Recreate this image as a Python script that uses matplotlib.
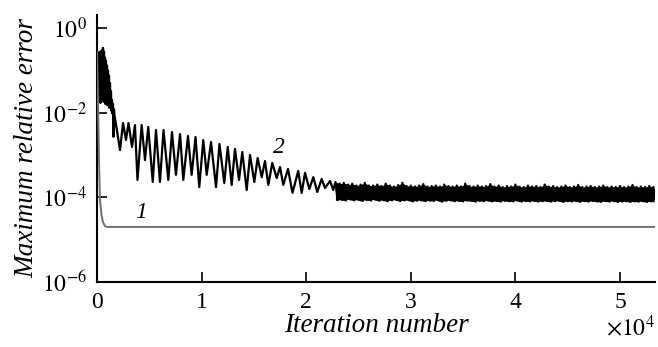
import numpy as np
import matplotlib
matplotlib.use("Agg")
import matplotlib.pyplot as plt

plt.rcParams['font.family'] = ['Liberation Serif', 'DejaVu Serif']
plt.rcParams['mathtext.fontset'] = 'stix'

# curve 1: fast convergence (gray)
it1 = [0, 96, 190, 290, 430, 574, 765, 956, 53346]
err1 = [0.27, 0.02, 7.6e-4, 8.7e-5, 3.8e-5, 2.6e-5, 2.1e-5, 2.0e-5, 2.0e-5]

# curve 2: start region (dense), then peaks/dips of the oscillation
it2 = [0, 48, 96, 143, 191, 239, 287, 335, 382, 430, 478, 526, 574, 621,
       669, 717, 765, 813, 860, 908, 956, 1004, 1052, 1099, 1147, 1195,
       1243, 1291, 1338, 1386, 1434, 1482, 1530, 1577, 1625, 1673,
       1720, 2200, 2490, 2770, 3010, 3350, 3630, 3870, 4270, 4590, 4900,
       5330, 5640, 6020, 6360, 6820, 7170, 7550, 7940, 8250, 8700, 9050,
       9420, 9780, 10160, 10490, 10900, 11380, 11710, 12170, 12500, 12880,
       13190, 13580, 13890, 14310, 14630, 15040, 15360, 15750, 16060, 16380,
       16760, 17180, 17500, 17810, 18260, 18690, 19240, 19570, 19890, 20300,
       20680, 21060, 21480, 21800, 22280, 22590]
err2 = [0.25, 0.022, 0.24, 0.018, 0.27, 0.025, 0.26, 0.017, 0.28, 0.030,
        0.30, 0.020, 0.34, 0.018, 0.28, 0.022, 0.20, 0.016, 0.17, 0.020,
        0.13, 0.015, 0.10, 0.017, 0.075, 0.013, 0.050, 0.014, 0.032, 0.011,
        0.020, 0.0095, 0.016, 0.0027, 0.012, 0.0085,
        0.0075, 0.00131, 0.0057, 0.00226, 0.0057, 0.00155, 0.0051, 0.000257,
        0.0051, 0.00076, 0.0046, 0.00023, 0.0039, 0.00023, 0.0039, 0.000257,
        0.0035, 0.00034, 0.00313, 0.000257, 0.00281, 0.00034, 0.00266,
        0.000175, 0.00226, 0.00034, 0.00203, 0.000175, 0.00182, 0.000218,
        0.00155, 0.000196, 0.00139, 0.000257, 0.00118, 0.000149, 0.00100,
        0.00023, 0.00085, 0.00030, 0.00072, 0.000196, 0.00065, 0.000286,
        0.00052, 0.000196, 0.00047, 0.000127, 0.00042, 0.000127, 0.00038,
        0.000157, 0.00030, 0.000134, 0.000271, 0.000166, 0.000243, 0.000149]

# curve 2: noisy plateau, upper (x1e-4) and lower (x1e-5) edges every 400 iterations
band_start = 22800
band_top = [2.3, 2.1, 2.2, 2.0, 2.1, 1.9, 2.0, 2.2, 1.9, 1.9,
            2.0, 1.85, 2.1, 1.9, 1.8, 1.95, 2.2, 1.85, 1.9, 1.8,
            1.9, 2.05, 1.8, 1.85, 1.9, 1.8, 2.0, 1.85, 1.8, 1.9,
            1.8, 2.1, 1.85, 1.8, 1.9, 1.8, 1.85, 2.05, 1.8, 1.9,
            1.75, 1.85, 1.8, 2.0, 1.8, 1.75, 1.9, 1.8, 1.85, 1.75,
            2.0, 1.8, 1.85, 1.75, 1.8, 1.9, 1.75, 1.8, 1.95, 1.75,
            1.8, 1.85, 1.75, 1.8, 1.9, 1.75, 1.8, 1.75, 1.85, 1.75,
            1.8, 1.95, 1.75, 1.8, 1.75, 1.85, 1.75]
band_bot = [8.6, 8.8, 8.4, 9.0, 8.5, 8.8, 8.2, 8.7, 8.4, 8.9,
            8.3, 8.6, 8.1, 8.5, 8.8, 8.2, 8.4, 8.6, 8.0, 8.3,
            8.5, 8.1, 8.4, 8.2, 8.6, 7.9, 8.3, 8.5, 8.1, 8.3,
            8.0, 8.4, 8.2, 7.9, 8.3, 8.1, 8.4, 8.0, 8.2, 7.9,
            8.3, 8.1, 8.0, 8.4, 7.9, 8.2, 8.0, 8.3, 7.9, 8.1,
            8.2, 7.9, 8.1, 8.3, 7.8, 8.1, 8.0, 8.2, 7.8, 8.1,
            7.9, 8.2, 8.0, 7.8, 8.1, 7.9, 8.2, 7.8, 8.0, 8.1,
            7.8, 8.0, 7.9, 8.1, 7.8, 8.0, 7.9]

xticks = [0, 1e4, 2e4, 3e4, 4e4, 5e4]
xticklabels = ['0', '1', '2', '3', '4', '5']
yticks = [1, 1e-2, 1e-4, 1e-6]
yticklabels = [r'$10^{0}$', r'$10^{-2}$', r'$10^{-4}$', r'$10^{-6}$']

# plateau: edges at the listed positions, zigzag between them
band_it = [band_start + 400 * k for k in range(len(band_top))]
band_hi = [v * 1e-4 for v in band_top]
band_lo = [v * 1e-5 for v in band_bot]
it_band, err_band = [], []
for k in range(len(band_top)):
    it_band += [band_it[k], band_it[k] + 200]
    err_band += [band_hi[k], band_lo[k]]

fig = plt.figure(figsize=(6.58, 3.47), dpi=100)
ax = fig.add_axes([0.1474, 0.1873, 0.848, 0.7695])

ax.plot(it2 + it_band, err2 + err_band, color='black', lw=1.6)
ax.fill_between(band_it, band_lo, band_hi, color='black', lw=0)
ax.plot(it1, err1, color='#707070', lw=1.4, zorder=3)

ax.set_yscale('log')
ax.set_xlim(0, 53346)
ax.set_ylim(1e-6, 2.03)
ax.set_xticks(xticks)
ax.set_xticklabels(xticklabels)
ax.set_yticks(yticks)
ax.set_yticklabels(yticklabels)
ax.minorticks_off()
ax.tick_params(direction='in', length=7, width=1.2, labelsize=17)
ax.tick_params(axis='x', pad=7)
ax.tick_params(axis='y', pad=7)

for s in ['top', 'right']:
    ax.spines[s].set_visible(False)
for s in ['left', 'bottom']:
    ax.spines[s].set_linewidth(1.5)

ax.set_xlabel('Iteration number', fontsize=19.5, style='italic', labelpad=0)
ax.set_ylabel('Maximum relative error', fontsize=19.5, style='italic', labelpad=2)
ax.text(1.0, -0.17, r'$\times10^{4}$', transform=ax.transAxes, fontsize=17,
        ha='right', va='center')

ax.text(4200, 4.4e-5, '1', fontsize=17, style='italic', ha='center', va='center')
ax.text(17400, 1.5e-3, '2', fontsize=17, style='italic', ha='center', va='center')

fig.savefig('out.png', dpi=100)
